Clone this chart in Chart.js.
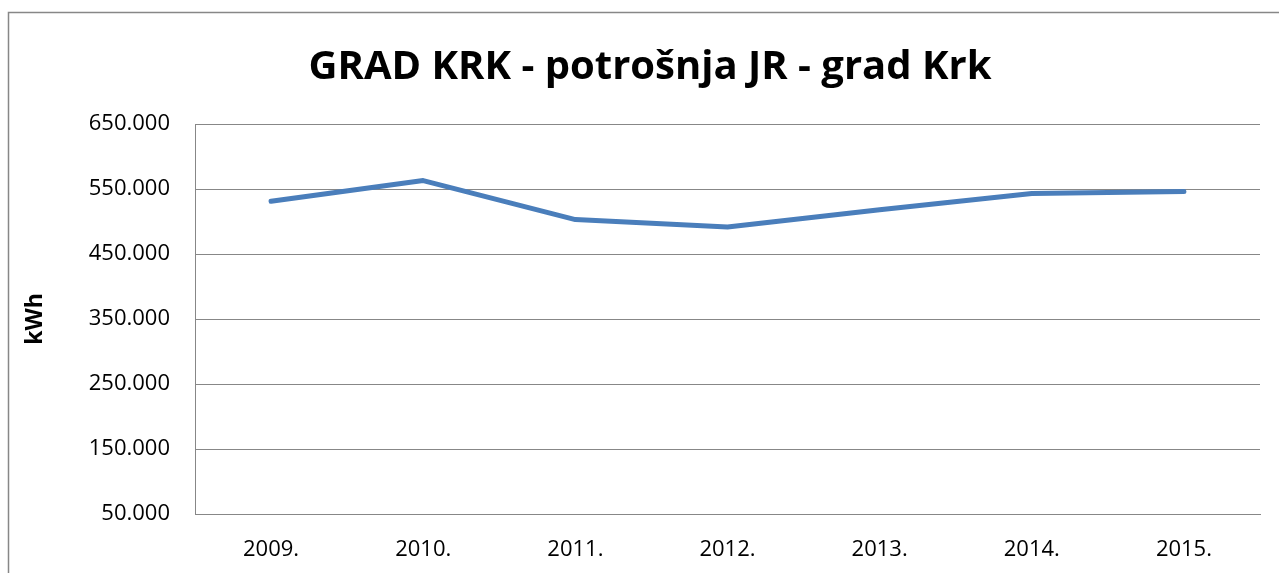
<!DOCTYPE html>
<html>
<head>
<meta charset="utf-8">
<script src="https://cdn.jsdelivr.net/npm/chart.js@4.4.0/dist/chart.umd.min.js"></script>
<style>
  html, body { margin: 0; padding: 0; background: #fff; overflow: hidden; }
  canvas { display: block; }
</style>
</head>
<body>
<canvas id="krkChart" width="1279" height="573"></canvas>
<script>
/* potrošnja javne rasvjete - grad Krk */

const years = ['2009.', '2010.', '2011.', '2012.', '2013.', '2014.', '2015.'];
const consumption = [531000, 563000, 503000, 491500, 518000, 543000, 546000];
const yTicks = [50000, 150000, 250000, 350000, 450000, 550000, 650000];

const gray = '#878787';
const fontName = "'Open Sans', 'Noto Sans', sans-serif";

function formatKwh(v){
  // 650000 -> "650.000"
  return Math.round(v).toString().replace(/\B(?=(\d{3})+(?!\d))/g, '.');
}

// outer frame of the chart, it runs off the right and bottom edge
const framePlugin = {
  id: 'frame',
  beforeDraw(chart){
    const c = chart.ctx;
    c.save();
    c.strokeStyle = gray;
    c.lineWidth = 1.5;
    c.strokeRect(8.5, 12.5, 1400, 700);
    c.restore();
  }
};

const ctx = document.getElementById('krkChart');

const krkChart = new Chart(ctx, {
  type: 'line',
  data: {
    labels: years,
    datasets: [{
      label: 'kWh',
      data: consumption,
      borderColor: '#4a7ebb',
      borderWidth: 5,
      borderCapStyle: 'round',
      borderJoinStyle: 'round',
      tension: 0,
      pointRadius: 0,
      fill: false
    }]
  },
  options: {
    responsive: false,
    animation: false,
    layout: {
      // left padding a bit bigger so the title sits where it did in the original
      padding: { left: 40, right: 19, top: 0, bottom: 0 }
    },
    plugins: {
      legend: { display: false },
      tooltip: { enabled: false },
      title: {
        display: true,
        text: 'GRAD KRK - potrošnja JR - grad Krk',
        color: '#000',
        font: { family: fontName, size: 40, weight: 'bold' },
        padding: { top: 44, bottom: 32 }
      }
    },
    scales: {
      x: {
        offset: true,
        grid: { display: false, drawTicks: false },
        border: { display: true, color: gray, width: 1 },
        ticks: {
          color: '#000',
          padding: 23,
          maxRotation: 0,
          font: { family: fontName, size: 22 }
        },
        afterFit(scale){ scale.height = 59; }
      },
      y: {
        min: 50000,
        max: 650000,
        afterBuildTicks(scale){
          scale.ticks = yTicks.map(v => ({ value: v }));
        },
        grid: { color: gray, lineWidth: 1, drawTicks: false },
        border: { display: true, color: gray, width: 1 },
        ticks: {
          color: '#000',
          padding: 25,
          font: { family: fontName, size: 22 },
          callback: (v) => formatKwh(v)
        },
        title: {
          display: true,
          text: 'kWh',
          color: '#000',
          font: { family: fontName, size: 23, weight: 'bold' },
          padding: { top: -18, bottom: 0 }
        },
        afterFit(scale){ scale.width = 195 - 40; }
      }
    }
  },
  plugins: [framePlugin]
});
</script>
</body>
</html>
